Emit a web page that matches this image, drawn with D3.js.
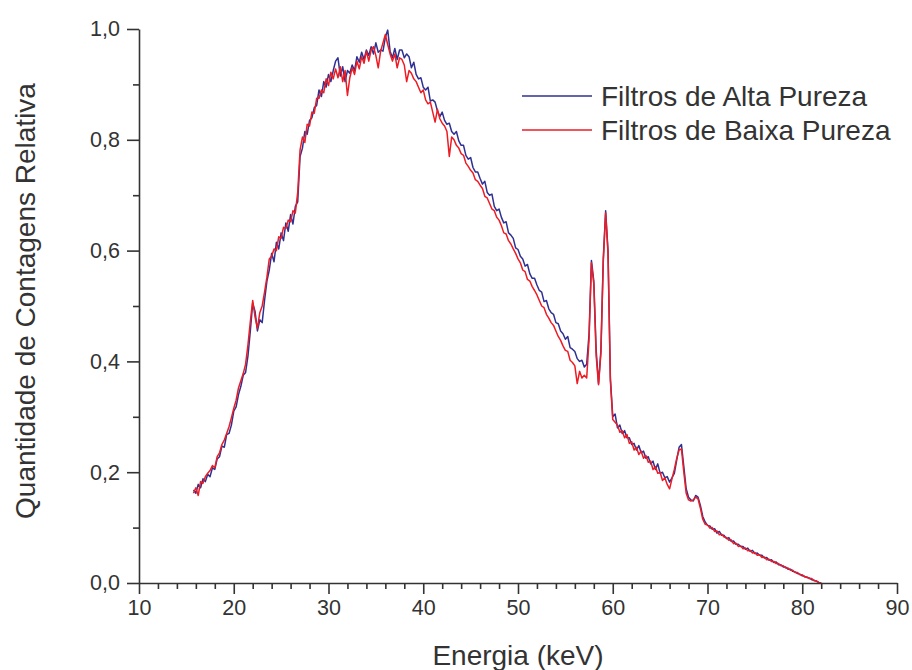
<!DOCTYPE html>
<html>
<head>
<meta charset="utf-8">
<script src="https://cdn.jsdelivr.net/npm/d3@7"></script>
<style>
  html, body { margin: 0; padding: 0; background: #fff; }
  svg { display: block; font-family: "Liberation Sans", Arial, Helvetica, sans-serif; }
</style>
</head>
<body>
<svg id="chart" width="912" height="670"></svg>
<script>
// Spectrum channels: 0.25 keV bins starting at 15.75 keV
const energyStart = 15.75;
const energyStep = 0.25;

// Normalised counts, high-purity filters
const altaPureza = [
  .168, .162, .178, .172, .188, .183, .196, .192,
  .208, .205, .224, .228, .247, .245, .268, .270,
  .285, .310, .318, .340, .355, .375, .380, .410,
  .455, .505, .490, .455, .475, .470, .510, .545,
  .565, .595, .580, .615, .603, .632, .618, .650,
  .635, .665, .648, .680, .688, .770, .785, .815,
  .810, .835, .840, .858, .862, .890, .878, .905,
  .895, .918, .905, .925, .942, .948, .915, .932,
  .905, .925, .920, .935, .925, .950, .940, .958,
  .945, .962, .952, .968, .955, .975, .958, .962,
  .960, .985, .998, .960, .948, .965, .945, .962,
  .962, .948, .955, .950, .930, .940, .918, .910,
  .912, .895, .890, .895, .870, .872, .868, .852,
  .842, .850, .835, .828, .830, .815, .810, .815,
  .798, .790, .790, .772, .765, .768, .750, .742,
  .742, .730, .720, .725, .705, .700, .702, .680,
  .672, .675, .660, .650, .652, .632, .628, .622,
  .605, .602, .590, .585, .572, .575, .558, .550,
  .550, .538, .528, .525, .508, .510, .495, .488,
  .485, .470, .468, .455, .450, .440, .445, .425,
  .422, .418, .405, .400, .402, .390, .395, .450,
  .582, .545, .420, .360, .420, .585, .672, .600,
  .370, .300, .305, .280, .285, .270, .275, .262,
  .262, .250, .252, .240, .248, .235, .238, .225,
  .228, .215, .220, .205, .215, .198, .200, .190,
  .192, .182, .190, .198, .222, .245, .250, .210,
  .170, .155, .150, .148, .158, .155, .140, .120,
  .110, .104, .103, .097, .098, .090, .093, .086,
  .086, .080, .082, .075, .076, .070, .070, .066,
  .066, .061, .063, .057, .059, .053, .054, .050,
  .050, .045, .046, .041, .042, .037, .038, .033,
  .033, .029, .029, .025, .025, .021, .020, .017,
  .016, .013, .012, .010, .009, .006, .005, .003,
  .001, .000
];

// Normalised counts, low-purity filters
const baixaPureza = [
  .162, .172, .158, .183, .180, .192, .198, .203,
  .212, .208, .228, .235, .250, .258, .270, .282,
  .298, .315, .330, .352, .365, .378, .395, .430,
  .472, .510, .480, .460, .488, .500, .525, .552,
  .585, .590, .603, .600, .625, .622, .642, .640,
  .655, .652, .672, .668, .705, .782, .805, .795,
  .828, .825, .850, .848, .875, .875, .890, .885,
  .910, .898, .922, .910, .928, .912, .932, .905,
  .925, .880, .912, .930, .918, .942, .928, .950,
  .938, .960, .942, .962, .968, .952, .930, .960,
  .975, .990, .972, .955, .942, .955, .930, .948,
  .945, .935, .905, .925, .920, .910, .905, .895,
  .885, .890, .872, .865, .868, .850, .832, .855,
  .838, .830, .825, .815, .770, .805, .800, .790,
  .785, .775, .772, .758, .752, .745, .740, .728,
  .725, .718, .712, .698, .695, .685, .675, .672,
  .660, .655, .645, .632, .630, .618, .612, .603,
  .595, .585, .578, .565, .562, .548, .545, .535,
  .528, .520, .510, .500, .497, .485, .478, .470,
  .465, .455, .445, .438, .428, .420, .418, .402,
  .398, .392, .360, .382, .370, .375, .370, .440,
  .578, .540, .410, .358, .415, .580, .668, .595,
  .365, .295, .290, .285, .272, .275, .262, .268,
  .252, .255, .240, .245, .232, .238, .225, .230,
  .218, .220, .205, .210, .198, .200, .185, .190,
  .178, .170, .188, .205, .225, .240, .242, .200,
  .162, .150, .148, .150, .155, .152, .135, .115,
  .106, .105, .099, .100, .093, .094, .087, .088,
  .083, .082, .077, .078, .071, .072, .066, .067,
  .062, .063, .058, .059, .054, .055, .050, .051,
  .046, .047, .042, .043, .039, .039, .035, .035,
  .031, .031, .027, .027, .023, .023, .019, .019,
  .015, .015, .011, .011, .008, .008, .004, .004,
  .001, .000
];

const seriesNames = ["Filtros de Alta Pureza", "Filtros de Baixa Pureza"];
const seriesColors = ["#2e3192", "#ed1c24"];
const xMajorTicks = [10, 20, 30, 40, 50, 60, 70, 80, 90];
const yMajorTicks = [0, 0.2, 0.4, 0.6, 0.8, 1.0];
const xTitle = "Energia (keV)";
const yTitle = "Quantidade de Contagens Relativa";

const svg = d3.select("#chart");
const ink = "#333";
const tickFont = "21.5px";
const titleFont = "28px";

const x = d3.scaleLinear().domain([10, 90]).range([139, 897]);
const y = d3.scaleLinear().domain([0, 1]).range([583, 29]);

const fmt = v => d3.format(".1f")(v).replace(".", ",");

// Curves
const toPoints = arr => arr.map((v, i) => [energyStart + i * energyStep, v]);
const line = d3.line().x(d => x(d[0])).y(d => y(d[1]));

const plot = svg.append("g");
[altaPureza, baixaPureza].forEach((arr, k) => {
  plot.append("path")
    .datum(toPoints(arr))
    .attr("d", line)
    .attr("fill", "none")
    .attr("stroke", seriesColors[k])
    .attr("stroke-width", 1.5)
    .attr("stroke-linejoin", "round");
});

function styleAxis(g) {
  g.selectAll("line").attr("stroke", ink).attr("stroke-width", 1.6);
  g.selectAll(".domain").attr("stroke", ink).attr("stroke-width", 1.6);
  g.selectAll("text").attr("fill", ink).style("font-size", tickFont)
    .style("font-family", "'Liberation Sans', Arial, sans-serif");
}

// X axis: major every 10, minor every 2
const xMinor = d3.range(10, 90.1, 2).filter(v => v % 10 !== 0);
const xMinorG = svg.append("g").attr("transform", `translate(0,${y(0)})`)
  .call(d3.axisBottom(x).tickValues(xMinor).tickSize(6).tickFormat(""));
xMinorG.select(".domain").remove();
const xMajorG = svg.append("g").attr("transform", `translate(0,${y(0)})`)
  .call(d3.axisBottom(x).tickValues(xMajorTicks).tickSize(11).tickPadding(6).tickSizeOuter(0).tickFormat(d3.format("d")));
styleAxis(xMinorG);
styleAxis(xMajorG);

// Y axis: major every 0.2, minor every 0.1
const yMinor = [0.1, 0.3, 0.5, 0.7, 0.9];
const yMinorG = svg.append("g").attr("transform", `translate(${x(10)},0)`)
  .call(d3.axisLeft(y).tickValues(yMinor).tickSize(6).tickFormat(""));
yMinorG.select(".domain").remove();
const yMajorG = svg.append("g").attr("transform", `translate(${x(10)},0)`)
  .call(d3.axisLeft(y).tickValues(yMajorTicks).tickSize(12).tickPadding(7).tickSizeOuter(0).tickFormat(fmt));
styleAxis(yMinorG);
styleAxis(yMajorG);

// Axis titles
svg.append("text")
  .attr("x", 518).attr("y", 665)
  .attr("text-anchor", "middle")
  .attr("fill", ink)
  .style("font-size", titleFont)
  .text(xTitle);

svg.append("text")
  .attr("transform", "translate(35,301) rotate(-90)")
  .attr("text-anchor", "middle")
  .attr("fill", ink)
  .style("font-size", titleFont)
  .text(yTitle);

// Legend
const legend = svg.append("g");
seriesNames.forEach((name, k) => {
  const ly = 96 + k * 34;
  legend.append("line")
    .attr("x1", 522).attr("x2", 592)
    .attr("y1", ly).attr("y2", ly)
    .attr("stroke", seriesColors[k]).attr("stroke-width", 1.5);
  legend.append("text")
    .attr("x", 601).attr("y", ly + 10)
    .attr("fill", ink)
    .style("font-size", titleFont)
    .text(name);
});
</script>
</body>
</html>
